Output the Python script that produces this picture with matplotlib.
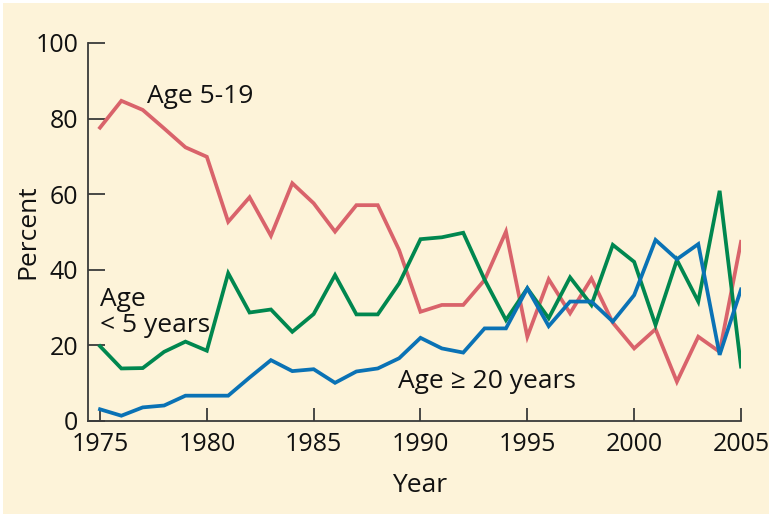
import matplotlib

matplotlib.use("Agg")

import matplotlib.pyplot as plt
from matplotlib.patches import Rectangle

years = list(range(1975, 2006))

age_5_19 = [77.6, 84.7, 82.3, 77.4, 72.4, 69.9, 52.7, 59.2, 49.0, 62.9,
            57.6, 50.1, 57.1, 57.1, 45.2, 28.9, 30.7, 30.7, 37.3, 50.1,
            22.3, 37.5, 28.5, 37.7, 26.0, 19.2, 24.3, 10.4, 22.3, 18.3, 47.4]
age_under_5 = [19.8, 13.9, 14.0, 18.3, 21.0, 18.6, 39.1, 28.7, 29.5, 23.6,
               28.3, 38.6, 28.2, 28.2, 36.4, 48.1, 48.6, 49.8, 37.4, 26.7,
               35.1, 27.2, 38.0, 30.7, 46.6, 42.1, 25.4, 42.6, 31.6, 60.9, 14.4]
age_20_plus = [3.1, 1.4, 3.6, 4.1, 6.7, 6.7, 6.7, 11.5, 16.1, 13.2,
               13.7, 10.1, 13.1, 13.9, 16.6, 22.0, 19.2, 18.1, 24.5, 24.5,
               35.1, 25.1, 31.6, 31.6, 26.3, 33.3, 47.9, 42.8, 46.8, 17.5, 34.8]

x_ticks = [1975, 1980, 1985, 1990, 1995, 2000, 2005]
y_ticks = [0, 20, 40, 60, 80, 100]

BG = "#fdf3d9"
RED = "#d9636b"
GREEN = "#00874f"
BLUE = "#0a72b5"
INK = "#111111"
AX = "#3a3a3a"
FS = 19

plt.rcParams["font.family"] = ["Open Sans", "DejaVu Sans"]

fig = plt.figure(figsize=(7.69, 5.14), dpi=100)
fig.patch.set_facecolor("white")
fig.patches.append(Rectangle((3 / 769, 0), 1, 1 - 3 / 514, transform=fig.transFigure,
                             facecolor=BG, edgecolor="none", zorder=-10))

ax = fig.add_axes([88 / 769, 93 / 514, (741 - 88) / 769, (421 - 43) / 514])
ax.set_facecolor("none")

ax.plot(years, age_5_19, color=RED, lw=2.7, solid_joinstyle="miter")
ax.plot(years, age_under_5, color=GREEN, lw=2.7, solid_joinstyle="miter")
ax.plot(years, age_20_plus, color=BLUE, lw=2.7, solid_joinstyle="miter")

ax.set_xlim(1975 - 12 / 21.37, 2005)
ax.set_ylim(0, 100)
ax.set_xticks(x_ticks)
ax.set_yticks(y_ticks)
for side in ("top", "right"):
    ax.spines[side].set_visible(False)
for side in ("left", "bottom"):
    ax.spines[side].set_color(AX)
    ax.spines[side].set_linewidth(1.3)
ax.tick_params(axis="y", direction="in", length=12.5, width=1.3, color=AX,
               labelsize=18, pad=7, labelcolor=INK)
ax.tick_params(axis="x", direction="in", length=9.5, width=1.3, color=AX,
               labelsize=18, pad=8, labelcolor=INK)

# axis titles placed where the reference has them
fig.text(28 / 769, 1 - 232 / 514, "Percent", fontsize=FS, color=INK,
         rotation=90, ha="center", va="center")
fig.text(420 / 769, 1 - 486 / 514, "Year", fontsize=FS, color=INK,
         ha="center", va="center")

ax.text(1977.2, 84.1, "Age 5-19", fontsize=FS, color=INK, va="baseline")
ax.text(1975.0, 23.5, "Age\n< 5 years", fontsize=FS, color=INK, va="baseline",
        linespacing=1.07)
ax.text(1988.95, 8.7, "Age \u2265 20 years", fontsize=FS, color=INK, va="baseline")

fig.savefig("out.png", dpi=100, facecolor=fig.get_facecolor())
